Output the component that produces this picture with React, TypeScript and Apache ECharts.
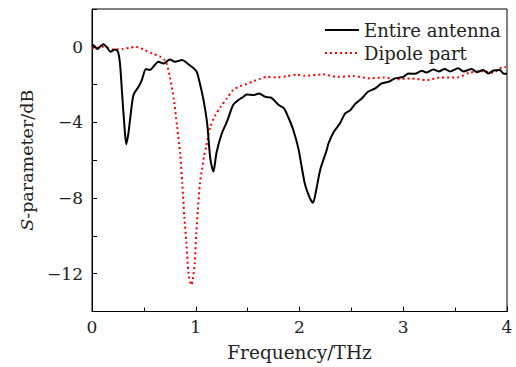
import React, { useEffect, useRef } from "react";
import * as echarts from "echarts";

const entireFreq = [0.0, 0.03, 0.05, 0.08, 0.11, 0.14, 0.18, 0.22, 0.25, 0.27, 0.29, 0.31, 0.33, 0.35, 0.37, 0.4, 0.45, 0.48, 0.52, 0.56, 0.59, 0.64, 0.69, 0.75, 0.8, 0.87, 0.92, 0.98, 1.01, 1.04, 1.075, 1.11, 1.14, 1.17, 1.2, 1.25, 1.3, 1.36, 1.41, 1.46, 1.49, 1.56, 1.61, 1.67, 1.73, 1.8, 1.85, 1.89, 1.94, 1.99, 2.05, 2.1, 2.13, 2.16, 2.2, 2.26, 2.28, 2.33, 2.39, 2.44, 2.49, 2.54, 2.6, 2.66, 2.73, 2.79, 2.86, 2.92, 3.0, 3.05, 3.11, 3.18, 3.22, 3.29, 3.34, 3.4, 3.45, 3.53, 3.58, 3.66, 3.71, 3.77, 3.82, 3.87, 3.93, 3.97, 4.0];
const entireS = [0.13, 0.0, -0.12, 0.02, 0.13, 0.0, -0.26, -0.14, -0.26, -0.9, -2.47, -4.0, -5.15, -4.6, -3.7, -2.55, -2.1, -1.76, -1.18, -1.22, -1.06, -0.79, -0.88, -0.67, -0.79, -0.7, -0.88, -1.14, -1.32, -1.94, -2.82, -4.05, -5.9, -6.6, -5.6, -4.6, -3.97, -3.08, -2.82, -2.64, -2.52, -2.55, -2.47, -2.64, -2.7, -3.08, -3.26, -3.7, -4.4, -5.4, -7.2, -8.0, -8.25, -7.6, -6.5, -5.5, -5.1, -4.5, -4.05, -3.52, -3.35, -3.0, -2.73, -2.38, -2.2, -1.94, -1.85, -1.67, -1.59, -1.41, -1.43, -1.27, -1.36, -1.2, -1.3, -1.18, -1.3, -1.14, -1.3, -1.18, -1.34, -1.22, -1.41, -1.25, -1.22, -1.43, -1.43];

const dipoleFreq = [0.0, 0.05, 0.11, 0.2, 0.3, 0.36, 0.42, 0.47, 0.51, 0.58, 0.66, 0.7, 0.72, 0.75, 0.79, 0.82, 0.85, 0.87, 0.89, 0.91, 0.93, 0.957, 0.97, 0.99, 1.005, 1.02, 1.04, 1.06, 1.08, 1.1, 1.14, 1.19, 1.24, 1.3, 1.36, 1.43, 1.49, 1.56, 1.62, 1.69, 1.78, 1.88, 1.97, 2.05, 2.23, 2.36, 2.52, 2.68, 2.81, 2.94, 3.07, 3.23, 3.36, 3.52, 3.64, 3.77, 3.87, 3.93, 3.99];
const dipoleS = [-0.09, -0.05, 0.0, -0.14, -0.12, -0.05, 0.0, -0.08, -0.18, -0.35, -0.53, -0.7, -0.88, -1.59, -2.82, -4.23, -5.64, -7.23, -9.0, -10.4, -12.0, -12.6, -12.35, -11.46, -9.87, -8.64, -7.23, -6.5, -5.8, -5.3, -4.23, -3.6, -3.17, -2.73, -2.29, -2.08, -1.97, -1.81, -1.69, -1.59, -1.62, -1.55, -1.47, -1.53, -1.46, -1.59, -1.55, -1.67, -1.62, -1.72, -1.67, -1.76, -1.62, -1.62, -1.37, -1.29, -1.37, -1.14, -1.06];

const seriesNames = ["Entire antenna", "Dipole part"];
const xTickLabels = ["0", "1", "2", "3", "4"];

const FONT = "DejaVu Serif";

export default function App() {
  const ref = useRef<HTMLDivElement>(null);
  useEffect(() => {
    if (!ref.current) return;
    const chart = echarts.init(ref.current, null, { renderer: "svg" });
    const entire = entireFreq.map((f, i) => [f, entireS[i]]);
    const dipole = dipoleFreq.map((f, i) => [f, dipoleS[i]]);
    chart.setOption({
      animation: false,
      backgroundColor: "#fff",
      grid: {
        left: 92,
        right: 9,
        top: 9,
        bottom: 55.5,
        show: true,
        borderColor: "#000",
        borderWidth: 1,
        containLabel: false,
      },
      legend: {
        orient: "vertical",
        left: 319,
        top: 16,
        itemWidth: 34,
        itemHeight: 14,
        itemGap: 5,
        itemStyle: { opacity: 0 },
        textStyle: { fontFamily: FONT, fontSize: 18, color: "#222" },
        data: seriesNames,
      },
      xAxis: {
        type: "value",
        min: 0,
        max: 4,
        interval: 1,
        name: "Frequency/THz",
        nameLocation: "middle",
        nameGap: 31,
        nameTextStyle: { fontFamily: FONT, fontSize: 18.5, color: "#222" },
        axisLine: { show: true, onZero: false, lineStyle: { color: "#000", width: 1 } },
        axisTick: { show: true, inside: true, length: 5, lineStyle: { color: "#000" } },
        minorTick: { show: true, splitNumber: 2, length: 4, lineStyle: { color: "#000" } },
        axisLabel: {
          fontFamily: FONT,
          fontSize: 17,
          color: "#222",
          margin: 7,
          formatter: (v: number) => xTickLabels[Math.round(v)] ?? "",
        },
        splitLine: { show: false },
      },
      yAxis: {
        type: "value",
        min: -14,
        max: 2,
        interval: 2,
        name: "{i|S}-parameter/dB",
        nameLocation: "middle",
        nameRotate: 90,
        nameGap: 56,
        nameTextStyle: {
          fontFamily: FONT,
          fontSize: 17.5,
          color: "#222",
          rich: {
            i: { fontFamily: FONT, fontSize: 17.5, fontStyle: "italic", color: "#222" },
          },
        },
        axisLine: { show: true, onZero: false, lineStyle: { color: "#000", width: 1 } },
        axisTick: { show: true, inside: true, length: 5, lineStyle: { color: "#000" } },
        axisLabel: {
          fontFamily: FONT,
          fontSize: 17,
          color: "#222",
          margin: 9,
          formatter: (v: number) => {
            if (v % 4 !== 0) return "";
            if (v === 0) return "0";
            return "\u2212" + Math.abs(v);
          },
        },
        splitLine: { show: false },
      },
      series: [
        {
          name: seriesNames[0],
          type: "line",
          data: entire,
          symbol: "none",
          smooth: 0.25,
          lineStyle: { color: "#000", width: 2, type: "solid" },
          itemStyle: { color: "#000" },
          z: 3,
        },
        {
          name: seriesNames[1],
          type: "line",
          data: dipole,
          symbol: "none",
          smooth: 0.25,
          lineStyle: { color: "#ff0000", width: 2, type: [2, 3] },
          itemStyle: { color: "#ff0000" },
          z: 2,
        },
      ],
    });
    return () => chart.dispose();
  }, []);
  return <div ref={ref} style={{ width: 516, height: 367, position: "absolute", left: 0, top: 0 }} />;
}
